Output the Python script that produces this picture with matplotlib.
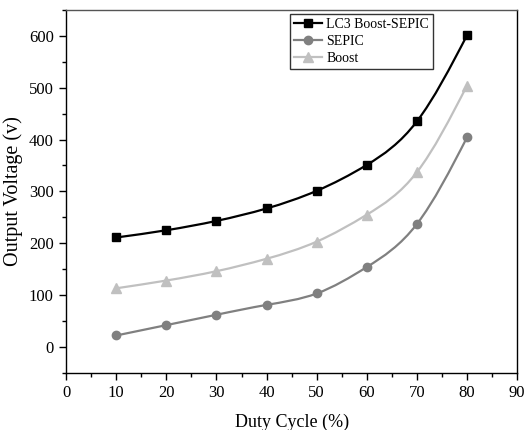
import matplotlib.pyplot as plt
import numpy as np
from matplotlib.path import Path
from matplotlib.patches import PathPatch
from matplotlib.lines import Line2D
from matplotlib.ticker import MultipleLocator

plt.rcParams['font.family'] = 'Liberation Serif'
plt.rcParams['font.size'] = 12

# 数据
duty = [10, 20, 30, 40, 50, 60, 70, 80]
lc3 = [211, 225, 243, 267, 301, 351, 435, 601]
sepic = [22, 42, 62, 81, 103, 154, 237, 404]
boost = [113, 128, 146, 170, 203, 255, 337, 504]

names = ['LC3 Boost-SEPIC', 'SEPIC', 'Boost']
colors = ['#000000', '#808080', '#c0c0c0']
markers = ['s', 'o', '^']


def spline_path(x, y):
    # 自然三次样条: 先解各点斜率, 再写成贝塞尔段
    x = np.asarray(x, float)
    y = np.asarray(y, float)
    n = len(x)
    h = np.diff(x)
    A = np.zeros((n, n))
    r = np.zeros(n)
    A[0, 0], A[0, 1] = 2 / h[0], 1 / h[0]
    r[0] = 3 * (y[1] - y[0]) / h[0] ** 2
    A[-1, -2], A[-1, -1] = 1 / h[-1], 2 / h[-1]
    r[-1] = 3 * (y[-1] - y[-2]) / h[-1] ** 2
    for i in range(1, n - 1):
        A[i, i - 1] = 1 / h[i - 1]
        A[i, i] = 2 / h[i - 1] + 2 / h[i]
        A[i, i + 1] = 1 / h[i]
        r[i] = 3 * ((y[i] - y[i - 1]) / h[i - 1] ** 2 + (y[i + 1] - y[i]) / h[i] ** 2)
    d = np.linalg.solve(A, r)
    verts = [(x[0], y[0])]
    codes = [Path.MOVETO]
    for i in range(n - 1):
        c1 = (x[i] + h[i] / 3, y[i] + d[i] * h[i] / 3)
        c2 = (x[i + 1] - h[i] / 3, y[i + 1] - d[i + 1] * h[i] / 3)
        verts += [c1, c2, (x[i + 1], y[i + 1])]
        codes += [Path.CURVE4] * 3
    return Path(verts, codes)


fig = plt.figure(figsize=(5.25, 4.3), dpi=100)
ax = fig.add_axes([0.126, 0.133, 0.859, 0.844])

handles = []
for vals, name, c, m in zip([lc3, sepic, boost], names, colors, markers):
    ax.add_patch(PathPatch(spline_path(duty, vals), fill=False, edgecolor=c, lw=1.6, zorder=2))
    ms = 6 if m != '^' else 7
    ax.plot(duty, vals, linestyle='none', marker=m, color=c, markersize=ms, zorder=3)
    handles.append(Line2D([], [], color=c, lw=1.6, marker=m, markersize=ms))

ax.set_xlim(0, 90)
ax.set_ylim(-50, 650)
ax.xaxis.set_major_locator(MultipleLocator(10))
ax.xaxis.set_minor_locator(MultipleLocator(5))
ax.yaxis.set_major_locator(MultipleLocator(100))
ax.yaxis.set_minor_locator(MultipleLocator(50))
ax.tick_params(which='both', direction='out', top=False, right=False, width=1)
ax.tick_params(which='major', length=5, pad=4)
ax.tick_params(which='minor', length=3)
for s in ax.spines.values():
    s.set_linewidth(1)
ax.spines['top'].set_color('#555555')

ax.set_xlabel('Duty Cycle (%)', fontsize=13, labelpad=9)
ax.set_ylabel('Output Voltage (v)', fontsize=14.5, labelpad=4)

leg = ax.legend(handles, names, loc='upper left', bbox_to_anchor=(0.497, 0.99),
                fontsize=10, frameon=True, fancybox=False, edgecolor='black',
                handlelength=2.0, handletextpad=0.3, borderpad=0.3, labelspacing=0.3,
                borderaxespad=0)
leg.get_frame().set_linewidth(1)

plt.savefig('out.png', dpi=100)
